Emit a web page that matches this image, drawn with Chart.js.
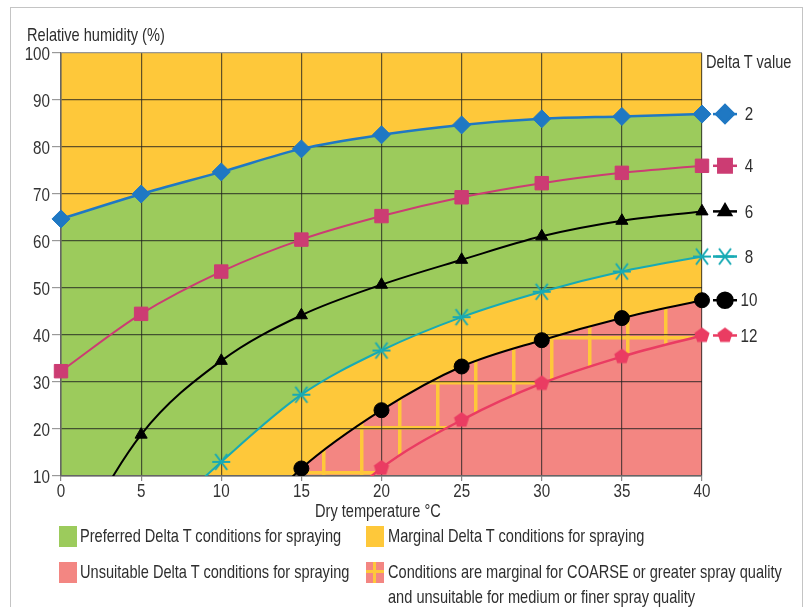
<!DOCTYPE html>
<html>
<head>
<meta charset="utf-8">
<script src="https://cdn.jsdelivr.net/npm/chart.js@4.4.1/dist/chart.umd.min.js"></script>
<style>
  html, body { margin: 0; padding: 0; background: #fff; }
  body { width: 808px; height: 607px; position: relative; overflow: hidden;
         font-family: "Liberation Sans", Arial, sans-serif; color: #2e2e2e; }
  #frame { position: absolute; left: 10px; top: 7px; width: 791px; height: 640px; border: 1px solid #c4c4c4; }
  #areaBg { position: absolute; background: #fec83a; }
  #myChart { position: absolute; left: 0; top: 0; }
  .txt { position: absolute; white-space: nowrap; font-size: 17.8px; line-height: 20px;
         transform: scaleX(0.82); transform-origin: 0 0; }
  .box { position: absolute; width: 18px; height: 21px; }
</style>
</head>
<body>
<div id="frame"></div>
<div id="areaBg"></div>
<canvas id="myChart" width="808" height="607"></canvas>

<div class="txt" style="left:27px; top:25px;">Relative humidity (%)</div>
<div class="txt" style="left:706px; top:52px;">Delta T value</div>
<div class="txt" style="left:315px; top:501px;">Dry temperature °C</div>

<div class="box" style="left:59px; top:526px; background:#9ccb5c;"></div>
<div class="txt" style="left:80px; top:526px;">Preferred Delta T conditions for spraying</div>
<div class="box" style="left:366px; top:526px; background:#fec83a;"></div>
<div class="txt" style="left:388px; top:526px;">Marginal Delta T conditions for spraying</div>
<div class="box" style="left:59px; top:562px; background:#f38682;"></div>
<div class="txt" style="left:80px; top:562px;">Unsuitable Delta T conditions for spraying</div>
<div class="box" style="left:366px; top:562px; background:#f38682;">
  <div style="position:absolute; left:7px; top:0; width:3px; height:21px; background:#fec83a;"></div>
  <div style="position:absolute; left:0; top:8px; width:18px; height:3px; background:#fec83a;"></div>
</div>
<div class="txt" style="left:388px; top:562px;">Conditions are marginal for COARSE or greater spray quality</div>
<div class="txt" style="left:388px; top:587px;">and unsuitable for medium or finer spray quality</div>

<script>
// dry temperature (x) and relative humidity for each Delta T line
const temps = [0, 5, 10, 15, 20, 25, 30, 35, 40];
const dt2  = [64.7, 70, 74.7, 79.6, 82.6, 84.7, 86, 86.5, 87];
const dt4  = [32.3, 44.5, 53.5, 60.3, 65.3, 69.3, 72.3, 74.5, 76];
const dt6  = [-9, 18.8, 34.5, 44.2, 50.7, 56, 61, 64.3, 66.3];
const dt8  = [null, -3, 13, 27.3, 36.7, 43.8, 49.2, 53.5, 56.7];
const dt10 = [null, null, -6, 11.6, 24, 33.3, 38.9, 43.6, 47.4];
const dt12 = [null, null, null, -4, 11.7, 21.9, 29.7, 35.4, 39.9];
const deltaLabels = ['2', '4', '6', '8', '10', '12'];

const xTicks = [0, 5, 10, 15, 20, 25, 30, 35, 40];
const yTicks = [10, 20, 30, 40, 50, 60, 70, 80, 90, 100];

const GREEN = '#9ccb5c', YELLOW = '#fec83a', RED = '#f38682';
const FONT = '"Liberation Sans", Arial, sans-serif';

function toPoints(vals) {
    let pts = [];
    for (let i = 0; i < temps.length; i++) {
        if (vals[i] !== null) pts.push({x: temps[i], y: vals[i]});
    }
    return pts;
}

// narrow text, like the condensed face of the original
function narrowText(ctx, text, x, y, align) {
    ctx.save();
    ctx.translate(x, y);
    ctx.scale(0.8, 1);
    ctx.textAlign = align;
    ctx.fillText(text, 0, 0);
    ctx.restore();
}

// hatch: red with yellow grid
function makeHatch() {
    const c = document.createElement('canvas');
    c.width = 38; c.height = 45;
    const g = c.getContext('2d');
    g.fillStyle = RED;
    g.fillRect(0, 0, 38, 45);
    g.fillStyle = YELLOW;
    g.fillRect(18, 0, 3.5, 45);
    g.fillRect(0, 21, 38, 3.5);
    return document.getElementById('myChart').getContext('2d').createPattern(c, 'repeat');
}

function markerCanvas(kind, color) {
    const c = document.createElement('canvas');
    c.width = 22; c.height = 22;
    const g = c.getContext('2d');
    g.translate(11, 11);
    if (kind === 'cross') {
        g.strokeStyle = color;
        g.lineWidth = 2;
        g.beginPath();
        g.moveTo(-9, 0); g.lineTo(9, 0);
        g.moveTo(-6, -8); g.lineTo(6, 8);
        g.moveTo(-6, 8); g.lineTo(6, -8);
        g.stroke();
    } else {
        g.fillStyle = color;
        g.beginPath();
        for (let k = 0; k < 5; k++) {
            const a = -Math.PI / 2 + k * 2 * Math.PI / 5;
            const r = 8;
            if (k === 0) g.moveTo(r * Math.cos(a), r * Math.sin(a));
            else g.lineTo(r * Math.cos(a), r * Math.sin(a));
        }
        g.closePath();
        g.fill();
    }
    return c;
}

const series = [
    {vals: dt2,  color: '#1f78c3', style: 'rectRot', radius: 9, fillColor: GREEN, order: 6, width: 2.5},
    {vals: dt4,  color: '#cc3c73', style: 'rect', radius: 9.5, fillColor: null, order: 5, width: 2},
    {vals: dt6,  color: '#000000', style: 'triangle', radius: 7, fillColor: null, order: 4, width: 2},
    {vals: dt8,  color: '#17aab4', style: markerCanvas('cross', '#17aab4'), radius: 9, fillColor: YELLOW, order: 3, width: 2},
    {vals: dt10, color: '#000000', style: 'circle', radius: 7.5, fillColor: 'hatch', order: 2, width: 2},
    {vals: dt12, color: '#ea3c62', style: markerCanvas('pent', '#ea3c62'), radius: 8, fillColor: RED, order: 1, width: 2.5}
];

const hatch = makeHatch();

const datasets = series.map(function (s, i) {
    let fc = s.fillColor === 'hatch' ? hatch : s.fillColor;
    return {
        label: 'Delta T ' + deltaLabels[i],
        data: toPoints(s.vals),
        borderColor: s.color,
        borderWidth: s.width,
        backgroundColor: fc || 'transparent',
        fill: fc ? {target: 'start', above: fc, below: fc} : false,
        pointStyle: s.style,
        pointRadius: s.radius,
        pointHoverRadius: s.radius,
        pointBackgroundColor: s.color,
        pointBorderColor: s.color,
        pointBorderWidth: 1,
        cubicInterpolationMode: 'monotone',
        clip: {left: 12, right: 12, top: 12, bottom: 0},
        order: s.order
    };
});

// yellow chart-area background sits under the transparent canvas
const areaBgPlugin = {
    id: 'areaBg',
    afterLayout(chart) {
        const a = chart.chartArea;
        const bg = document.getElementById('areaBg');
        bg.style.left = a.left + 'px';
        bg.style.top = a.top + 'px';
        bg.style.width = (a.right - a.left) + 'px';
        bg.style.height = (a.bottom - a.top) + 'px';
    }
};

// tick labels in narrow type
const tickLabelPlugin = {
    id: 'tickLabels',
    afterDraw(chart) {
        const ctx = chart.ctx;
        const a = chart.chartArea;
        const xs = chart.scales.x, ys = chart.scales.y;
        ctx.save();
        ctx.fillStyle = '#333';
        ctx.font = '19px ' + FONT;
        ctx.textBaseline = 'middle';
        yTicks.forEach(function (v) {
            narrowText(ctx, String(v), a.left - 11, ys.getPixelForValue(v) + 2, 'right');
        });
        ctx.textBaseline = 'top';
        xTicks.forEach(function (v) {
            narrowText(ctx, String(v), xs.getPixelForValue(v), a.bottom + 6, 'center');
        });
        ctx.restore();
    }
};

// Delta T keys at the right end of each line
const deltaKeyPlugin = {
    id: 'deltaKey',
    afterDraw(chart) {
        const ctx = chart.ctx;
        const right = chart.chartArea.right;
        ctx.save();
        chart.data.datasets.forEach(function (ds, i) {
            const meta = chart.getDatasetMeta(i);
            const last = meta.data[meta.data.length - 1];
            const y = last.y;
            const x0 = right + 11;
            ctx.strokeStyle = ds.borderColor;
            ctx.fillStyle = ds.borderColor;
            ctx.lineWidth = 2.5;
            ctx.beginPath();
            ctx.moveTo(x0, y);
            ctx.lineTo(x0 + 24, y);
            ctx.stroke();
            Chart.helpers.drawPoint(ctx, {pointStyle: ds.pointStyle, radius: ds.pointRadius, rotation: 0, borderWidth: 1}, x0 + 12, y);
            ctx.fillStyle = '#2e2e2e';
            ctx.font = '19px ' + FONT;
            ctx.textBaseline = 'middle';
            narrowText(ctx, deltaLabels[i], right + 47, y + 1, 'center');
        });
        ctx.restore();
    }
};

const config = {
    type: 'line',
    data: {datasets: datasets},
    options: {
        responsive: false,
        animation: false,
        layout: {padding: {left: 0, top: 53, right: 106, bottom: 101}},
        plugins: {
            legend: {display: false},
            tooltip: {enabled: false},
            filler: {drawTime: 'beforeDraw'}
        },
        scales: {
            x: {
                type: 'linear',
                min: 0,
                max: 40,
                afterBuildTicks: function (s) { s.ticks = xTicks.map(v => ({value: v})); },
                afterFit: function (s) { s.height = 30; },
                ticks: {display: false},
                grid: {color: 'rgba(30,30,30,0.7)', lineWidth: 1.2, tickLength: 5, tickColor: '#888'},
                border: {color: '#666', width: 1.5}
            },
            y: {
                type: 'linear',
                min: 10,
                max: 100,
                afterBuildTicks: function (s) { s.ticks = yTicks.map(v => ({value: v})); },
                afterFit: function (s) { s.width = 61; },
                ticks: {display: false},
                grid: {
                    color: function (c) { return c.tick && c.tick.value === 100 ? 'rgba(140,140,140,0.9)' : 'rgba(30,30,30,0.7)'; },
                    lineWidth: 1.2, tickLength: 9, tickColor: '#999'
                },
                border: {color: '#666', width: 1.5}
            }
        }
    },
    plugins: [areaBgPlugin, tickLabelPlugin, deltaKeyPlugin]
};

const myChart = new Chart(document.getElementById('myChart'), config);
</script>
</body>
</html>
